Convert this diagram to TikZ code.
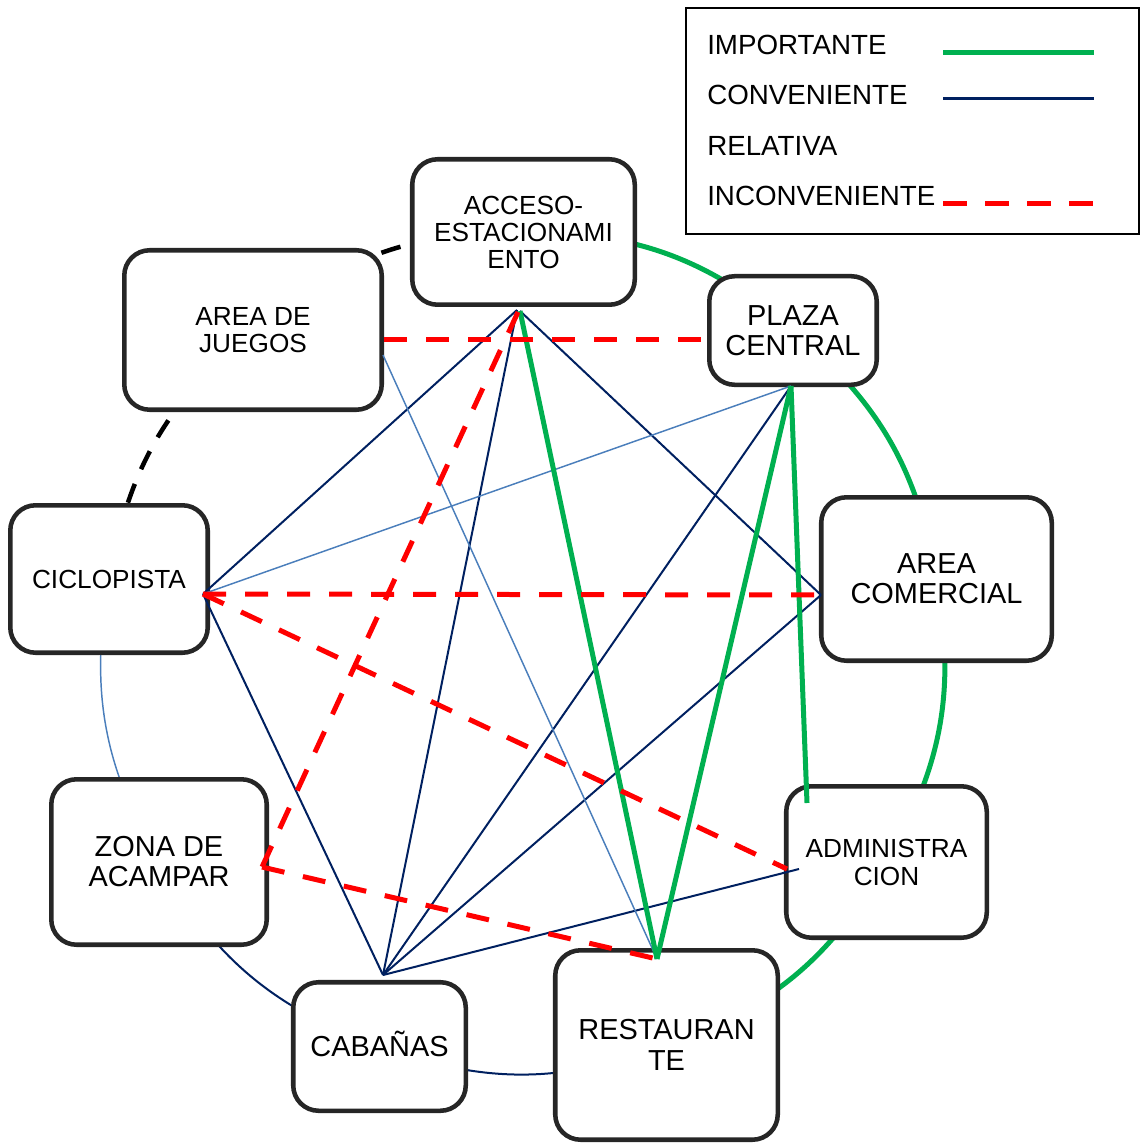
\documentclass[tikz,border=0pt]{standalone}
\usepackage{fontspec}
\setmainfont{Liberation Sans}
\usetikzlibrary{backgrounds}

\definecolor{impgreen}{RGB}{0,176,80}
\definecolor{convnavy}{RGB}{0,32,96}
\definecolor{relblue}{RGB}{74,126,187}
\definecolor{incred}{RGB}{255,0,0}
\definecolor{boxgray}{RGB}{38,38,38}

\begin{document}
\begin{tikzpicture}[x=0.75pt,y=-0.75pt,
  area/.style 2 args={draw=boxgray, line width=3.4pt, fill=white,
    rounded corners=19pt, inner sep=0pt, align=center,
    minimum width=#1, minimum height=#2},
  smalltxt/.style={font=\fontsize{19.65pt}{20.25pt}\selectfont},
  bigtxt/.style={font=\fontsize{21.7pt}{22.5pt}\selectfont},
  imp/.style={draw=impgreen, line width=3.75pt},
  conv/.style={draw=convnavy, line width=1.5pt},
  rel/.style={draw=relblue, line width=1.1pt},
  inc/.style={draw=incred, line width=3.75pt, dash pattern=on 17.25pt off 14.25pt},
  neutral/.style={draw=black, line width=3.4pt, dash pattern=on 15pt off 12pt},
  legtxt/.style={anchor=base west, inner sep=0pt, font=\fontsize{20.8pt}{24pt}\selectfont}
]
\useasboundingbox (0,0) rectangle (1143,1144);

% areas placed on a ring
\node[area={166.9pt}{109.1pt}, smalltxt] (acc) at (523.5,232) {ACCESO-\\ESTACIONAMI\\ENTO};
\node[area={125.6pt}{81.4pt}, bigtxt] (pla) at (793,330.5) {PLAZA\\CENTRAL};
\node[area={172.9pt}{122.6pt}, bigtxt] (com) at (936.5,579) {AREA\\COMERCIAL};
\node[area={150.4pt}{113.6pt}, font=\fontsize{19.65pt}{21pt}\selectfont] (adm) at (886.5,862) {ADMINISTRA\\CION};
\node[area={166.9pt}{142.1pt}, font=\fontsize{21.7pt}{23.25pt}\selectfont] (res) at (666.5,1045) {RESTAURAN\\TE};
\node[area={129.4pt}{96.4pt}, bigtxt] (cab) at (379.5,1046.5) {CABA\smash{Ñ}AS};
\node[area={161.6pt}{124.1pt}, bigtxt] (zon) at (159,862) {ZONA DE\\ACAMPAR};
\node[area={148.1pt}{110.6pt}, smalltxt] (cic) at (109,579) {CICLOPISTA};
\node[area={193.1pt}{119.6pt}, smalltxt] (jue) at (253,330) {AREA DE\\JUEGOS};

% ring links between neighbouring areas
\begin{scope}[on background layer]
  \draw[imp] (acc.center) to[bend left=20] (pla.center);
  \draw[imp] (pla.center) to[bend left=20] (com.center);
  \draw[imp] (com.center) to[bend left=20] (adm.center);
  \draw[imp] (adm.center) to[bend left=20] (res.center);
  \draw[conv] (res.center) to[bend left=20] (cab.center);
  \draw[conv] (cab.center) to[bend left=20] (zon.center);
  \draw[rel] (zon.center) to[bend left=20] (cic.center);
  \draw[neutral, dash phase=22pt] (cic.center) to[bend left=20] (jue.center);
  \draw[neutral, dash phase=22pt] (jue.center) to[bend left=20] (acc.center);
\end{scope}

% connection ports
\coordinate (acc-s) at (517,310);
\coordinate (acc-g) at (520,311);
\coordinate (acc-r) at (518,312);
\coordinate (pla-s) at (791,386);
\coordinate (pla-w) at (707,340);
\coordinate (jue-e) at (384,340);
\coordinate (jue-b) at (383,355);
\coordinate (com-w) at (821,595);
\coordinate (cic-e) at (203,594);
\coordinate (zon-e) at (262,867);
\coordinate (res-n) at (657,959);
\coordinate (cab-n) at (383,975);
\coordinate (adm-r) at (787,869);
\coordinate (adm-w) at (799,869);
\coordinate (adm-n) at (807,803);

% chords
\draw[conv] (acc-s) -- (cic-e);
\draw[conv] (acc-s) -- (cab-n);
\draw[conv] (acc-g) -- (com-w);
\draw[conv] (pla-s) -- (cab-n);
\draw[conv] (com-w) -- (cab-n);
\draw[conv] (cic-e) -- (cab-n);
\draw[conv] (adm-w) -- (cab-n);
\draw[rel] (pla-s) -- (cic-e);
\draw[rel] (jue-b) -- (res-n);
\draw[imp] (acc-g) -- (res-n);
\draw[imp] (pla-s) -- (res-n);
\draw[imp] (pla-s) -- (adm-n);
\draw[inc] (jue-e) -- (pla-w);
\draw[inc] (acc-r) -- (zon-e);
\draw[inc] (zon-e) -- (res-n);
\draw[inc] (cic-e) -- (com-w);
\draw[inc] (cic-e) -- (adm-r);

% legend
\draw[line width=1pt] (686,8) rectangle (1139,234);
\node[legtxt] (l1) at (707,55) {IMPORTANTE};
\node[legtxt] (l2) at (707,105) {CONVENIENTE};
\node[legtxt] (l3) at (707,156) {RELATIVA};
\node[legtxt] (l4) at (707,206) {INCONVENIENTE};
\coordinate (k1a) at (943,52.7);  \coordinate (k1b) at (1094,52.7);
\coordinate (k2a) at (943,98.3);  \coordinate (k2b) at (1094,98.3);
\coordinate (k4a) at (943,203.3); \coordinate (k4b) at (1094,203.3);
\draw[imp] (k1a) -- (k1b);
\draw[conv, line width=1.9pt] (k2a) -- (k2b);
\draw[draw=incred, line width=4.1pt, dash pattern=on 18pt off 13.5pt] (k4a) -- (k4b);
\end{tikzpicture}
\end{document}
